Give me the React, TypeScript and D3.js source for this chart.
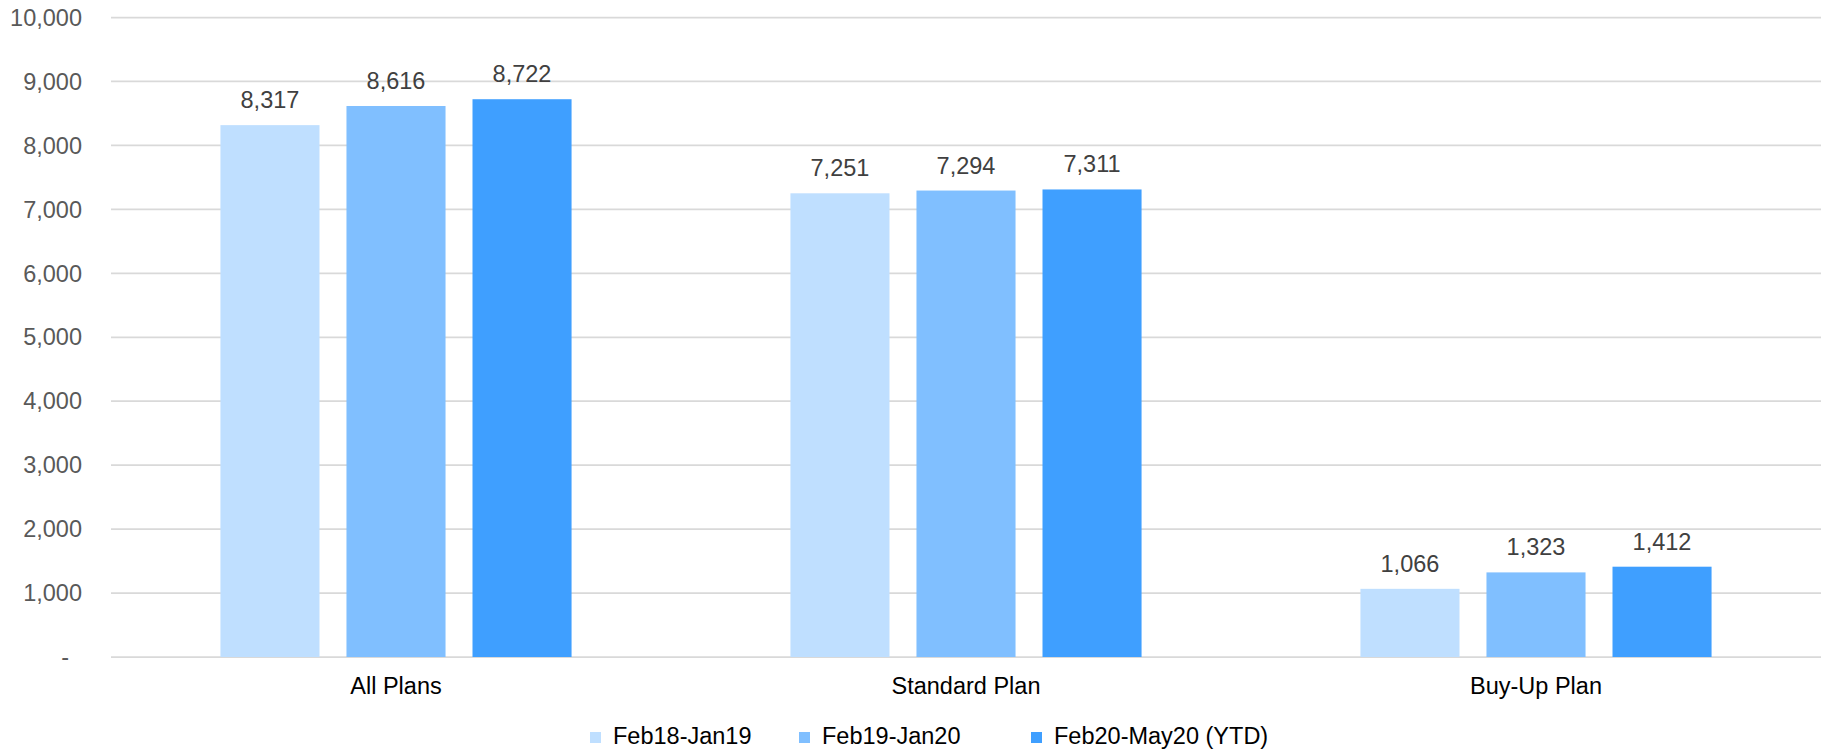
import React from "react";
import * as d3 from "d3";

// Enrollment counts by plan type for three periods
const categories = ["All Plans", "Standard Plan", "Buy-Up Plan"];
const seriesNames = ["Feb18-Jan19", "Feb19-Jan20", "Feb20-May20 (YTD)"];
const feb18Jan19 = [8317, 7251, 1066];
const feb19Jan20 = [8616, 7294, 1323];
const feb20May20 = [8722, 7311, 1412];
const seriesColors = ["#BFDFFF", "#80BFFF", "#3F9FFF"];
const yTicks = [0, 1000, 2000, 3000, 4000, 5000, 6000, 7000, 8000, 9000, 10000];

const seriesValues = [feb18Jan19, feb19Jan20, feb20May20];

const W = 1826;
const H = 750;
const margin = { left: 111, right: 5, top: 17.5, bottom: 93 };
const FONT = "'Liberation Sans', Arial, Helvetica, sans-serif";
const FS = 23.5;

export default function App() {
  const x0 = d3
    .scaleBand<string>()
    .domain(categories)
    .range([margin.left, W - margin.right])
    .paddingInner(0.384)
    .paddingOuter(0.192);

  const x1 = d3
    .scaleBand<string>()
    .domain(seriesNames)
    .range([0, x0.bandwidth()])
    .paddingInner(0.214)
    .paddingOuter(0);

  const y = d3
    .scaleLinear()
    .domain([0, 10000])
    .range([H - margin.bottom, margin.top]);

  const fmt = d3.format(",");

  // Legend layout: swatch, gap, label, then spacing to the next entry
  const legendStart = 590;
  const swatch = 11;
  const swatchGap = 12;
  const entryGap = 46;
  const labelWidths = [140, 163, 213];
  const legendX: number[] = [];
  let cx = legendStart;
  labelWidths.forEach((w) => {
    legendX.push(cx);
    cx += swatch + swatchGap + w + entryGap;
  });

  return (
    <div style={{ position: "absolute", left: 0, top: 0 }}>
      <svg width={W} height={H} style={{ display: "block", background: "#fff" }} fontFamily={FONT}>
        {/* gridlines */}
        {yTicks.map((t) => (
          <line
            key={"g" + t}
            x1={margin.left}
            x2={W - margin.right}
            y1={y(t)}
            y2={y(t)}
            stroke="#D9D9D9"
            strokeWidth={1.75}
          />
        ))}
        {/* y tick labels */}
        {yTicks.map((t) => (
          <text
            key={"t" + t}
            x={t === 0 ? 69 : 82}
            y={y(t)}
            dy="0.35em"
            textAnchor="end"
            fontSize={FS}
            fill="#595959"
          >
            {t === 0 ? "-" : fmt(t)}
          </text>
        ))}
        {/* bars and value labels */}
        {categories.map((c, ci) => (
          <g key={c} transform={`translate(${x0(c)},0)`}>
            {seriesNames.map((s, si) => {
              const v = seriesValues[si][ci];
              const bx = x1(s)!;
              return (
                <g key={s}>
                  <rect
                    x={bx}
                    y={y(v)}
                    width={x1.bandwidth()}
                    height={y(0) - y(v)}
                    fill={seriesColors[si]}
                  />
                  <text
                    x={bx + x1.bandwidth() / 2}
                    y={y(v) - 17}
                    textAnchor="middle"
                    fontSize={FS}
                    fill="#404040"
                  >
                    {fmt(v)}
                  </text>
                </g>
              );
            })}
          </g>
        ))}
        {/* category labels */}
        {categories.map((c) => (
          <text
            key={"c" + c}
            x={x0(c)! + x0.bandwidth() / 2}
            y={694}
            textAnchor="middle"
            fontSize={FS}
            fill="#000"
          >
            {c}
          </text>
        ))}
        {/* legend */}
        {seriesNames.map((s, si) => (
          <g key={"l" + s}>
            <rect x={legendX[si]} y={732} width={swatch} height={swatch} fill={seriesColors[si]} />
            <text x={legendX[si] + swatch + swatchGap} y={743.5} fontSize={FS} fill="#000">
              {s}
            </text>
          </g>
        ))}
      </svg>
    </div>
  );
}
